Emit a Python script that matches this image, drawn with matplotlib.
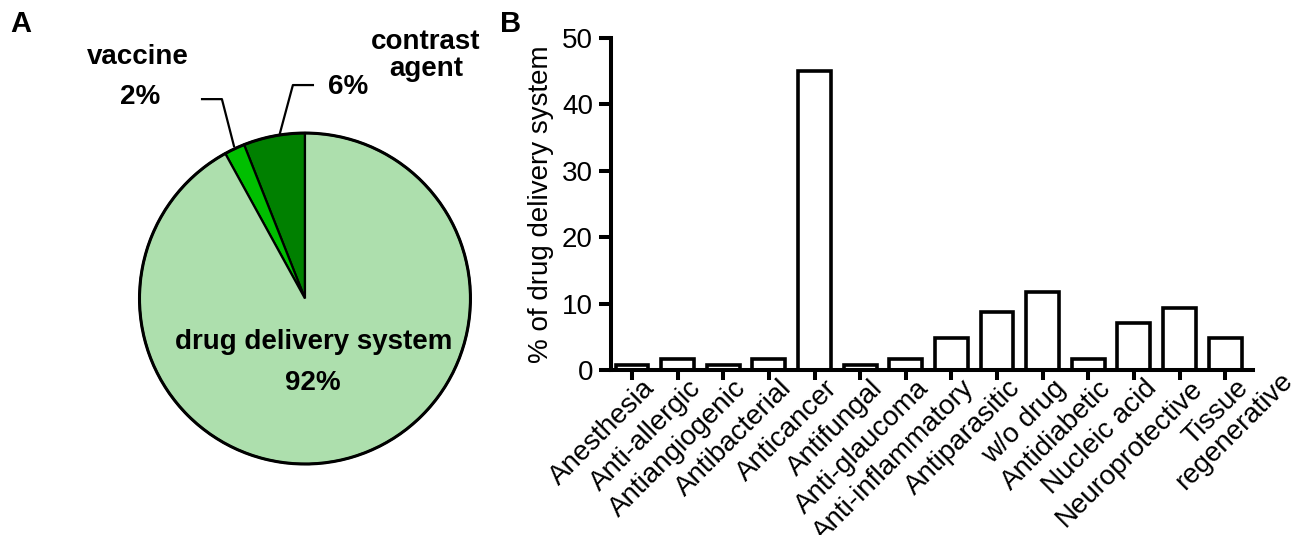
import numpy as np
import matplotlib.pyplot as plt
from matplotlib.transforms import ScaledTranslation

plt.rcParams['font.family'] = ['Liberation Sans', 'DejaVu Sans']

# pie data (A)
pie_labels = ['contrast agent', 'vaccine', 'drug delivery system']
pie_values = [6, 2, 92]
pie_colors = ['#008000', '#00BF00', '#ADDFAD']

# bar data (B)
categories = ['Anesthesia', 'Anti-allergic', 'Antiangiogenic', 'Antibacterial',
              'Anticancer', 'Antifungal', 'Anti-glaucoma', 'Anti-inflammatory',
              'Antiparasitic', 'w/o drug', 'Antidiabetic', 'Nucleic acid',
              'Neuroprotective', 'Tissue\nregenerative']
percent = [0.8, 1.6, 0.8, 1.6, 45.0, 0.8, 1.6, 4.8, 8.7, 11.8, 1.6, 7.1, 9.4, 4.8]
yticks = [0, 10, 20, 30, 40, 50]

W, H = 1299, 535
fig = plt.figure(figsize=(W / 100, H / 100), dpi=100)


def box(x0, y0, x1, y1):
    # pixel box (top-left origin) -> figure fraction
    return [x0 / W, 1 - y1 / H, (x1 - x0) / W, (y1 - y0) / H]


# ---- A: pie ----
ax1 = fig.add_axes(box(0, 0, 510, 535))
ax1.pie(pie_values, colors=pie_colors, startangle=90, counterclock=True,
        radius=1, wedgeprops=dict(edgecolor='black', linewidth=1.6))
ax1.add_patch(plt.Circle((0, 0), 1, fill=False, edgecolor='black', lw=2.2))
ax1.set_xlim(-1.843, 1.239)
ax1.set_ylim(-1.429, 1.804)
ax1.set_aspect('equal')
ax1.axis('off')

bold = dict(fontsize=20, fontweight='bold', ha='center', va='center')
ax1.text(0.054, -0.263, 'drug delivery system', **bold)
ax1.text(0.048, -0.511, '92%', **bold)
ax1.text(-1.009, 1.459, 'vaccine', **bold)
ax1.text(-0.997, 1.218, '2%', **bold)
ax1.text(0.73, 1.471, 'contrast\nagent', linespacing=1.05, **bold)
ax1.text(0.260, 1.278, '6%', **bold)
ax1.plot([-0.622, -0.502, -0.429], [1.205, 1.205, 0.921], color='black', lw=1.6)
ax1.plot([0.048, -0.073, -0.151], [1.290, 1.290, 1.0], color='black', lw=1.6)

# ---- B: bars ----
ax2 = fig.add_axes(box(611, 38, 1253, 370))
x = np.arange(len(categories))
ax2.bar(x, percent, width=0.72, color='white', edgecolor='black', linewidth=2.6)
ax2.set_xlim(-0.46, len(categories) - 0.39)
ax2.set_ylim(0, 50)
ax2.set_yticks(yticks)
ax2.set_xticks(x)
ax2.tick_params(axis='y', labelsize=20, width=2.9, length=9, pad=4)
ax2.tick_params(axis='x', width=2.9, length=7, pad=4)
for s in ['top', 'right']:
    ax2.spines[s].set_visible(False)
for s in ['left', 'bottom']:
    ax2.spines[s].set_linewidth(2.9)
ax2.set_ylabel('% of drug delivery system', fontsize=20, labelpad=6)

ax2.set_xticklabels(categories, rotation=45, ha='right', va='top',
                    rotation_mode='anchor', multialignment='center',
                    linespacing=1.0, fontsize=20)
for lab in ax2.get_xticklabels():
    dx, dy = 10, 10
    if '\n' in lab.get_text():
        # two-line label: first line ends at the tick, second sticks out
        dx, dy = dx + 26, dy + 26
    lab.set_transform(lab.get_transform() +
                      ScaledTranslation(dx / 100, dy / 100, fig.dpi_scale_trans))

fig.text(21 / W, 1 - 24 / H, 'A', fontsize=21, fontweight='bold', ha='center', va='center')
fig.text(511 / W, 1 - 24 / H, 'B', fontsize=21, fontweight='bold', ha='center', va='center')

fig.savefig('out.png', dpi=100)
